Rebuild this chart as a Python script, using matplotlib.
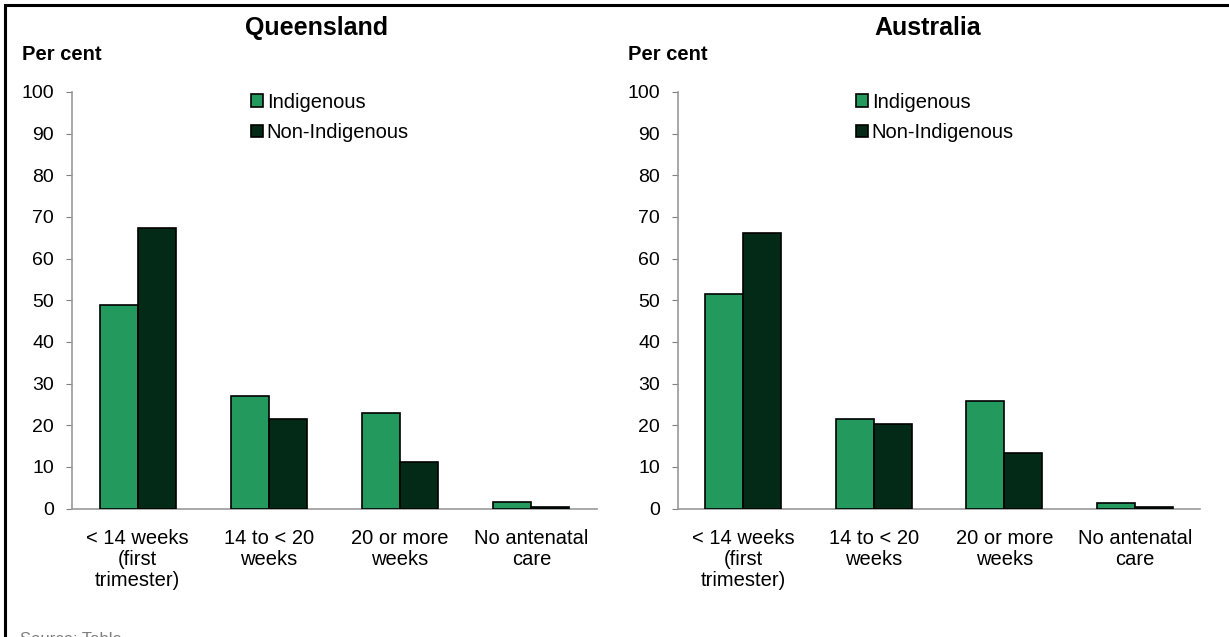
import matplotlib
matplotlib.use("Agg")
import matplotlib.pyplot as plt
from matplotlib.patches import Rectangle
import numpy as np

plt.rcParams['font.family'] = ['Liberation Sans', 'DejaVu Sans']

categories = ["< 14 weeks\n(first\ntrimester)", "14 to < 20\nweeks", "20 or more\nweeks", "No antenatal\ncare"]
series_names = ["Indigenous", "Non-Indigenous"]
qld_indigenous = [48.8, 27.0, 22.9, 1.6]
qld_non_indigenous = [67.3, 21.4, 11.2, 0.3]
aus_indigenous = [51.6, 21.5, 25.9, 1.4]
aus_non_indigenous = [66.2, 20.3, 13.4, 0.3]
panel_titles = ["Queensland", "Australia"]
yticks = list(range(0, 101, 10))

c_light = '#24995E'
c_dark = '#022A17'

W, H = 1229, 637
fig = plt.figure(figsize=(W / 100, H / 100), dpi=100)

def px_axes(x0, x1, y0, y1):
    return fig.add_axes([x0 / W, 1 - y1 / H, (x1 - x0) / W, (y1 - y0) / H])

axes = [px_axes(72, 597, 92, 508.5), px_axes(678, 1200, 92, 508.5)]
data = [(qld_indigenous, qld_non_indigenous), (aus_indigenous, aus_non_indigenous)]
title_x = [317, 928]
percent_x = [22, 628]

x = np.arange(len(categories))
bw = 0.29
for ax, (ind, non), ttl, tx, px in zip(axes, data, panel_titles, title_x, percent_x):
    ax.bar(x - bw / 2, ind, bw, color=c_light, edgecolor='black', linewidth=1.2, label=series_names[0], zorder=3)
    ax.bar(x + bw / 2, non, bw, color=c_dark, edgecolor='black', linewidth=1.2, label=series_names[1], zorder=3)
    ax.set_xlim(-0.5, 3.5)
    ax.set_ylim(0, 100)
    ax.set_yticks(yticks)
    ax.set_xticks(x)
    ax.set_xticklabels(categories, fontsize=14.5, linespacing=1.12)
    ax.tick_params(axis='x', length=0, pad=15)
    ax.tick_params(axis='y', length=4, color='#808080', labelsize=14, pad=9, direction='out')
    for s in ['top', 'right']:
        ax.spines[s].set_visible(False)
    for s in ['left', 'bottom']:
        ax.spines[s].set_color('#999999')
        ax.spines[s].set_linewidth(1.2)
    ax.legend(loc='upper left', bbox_to_anchor=(0.325, 1.017), frameon=False,
              fontsize=14.5, handlelength=0.6, handleheight=0.6, handletextpad=0.2,
              labelspacing=0.55, borderaxespad=0)
    fig.text(tx / W, 1 - 28 / H, ttl, fontsize=18, fontweight='bold', ha='center', va='center')
    fig.text(px / W, 1 - 55 / H, "Per cent", fontsize=14.5, fontweight='bold', ha='left', va='center')

fig.patches.append(Rectangle((5 / W, -0.2), 2.0, 1 - 5 / H + 0.2, transform=fig.transFigure,
                             fill=False, edgecolor='black', linewidth=2.2))
fig.text(20 / W, 1 - 632 / H, "Source: Table", fontsize=12, color='#7f7f7f', ha='left', va='top')

fig.savefig("out.png", dpi=100)
